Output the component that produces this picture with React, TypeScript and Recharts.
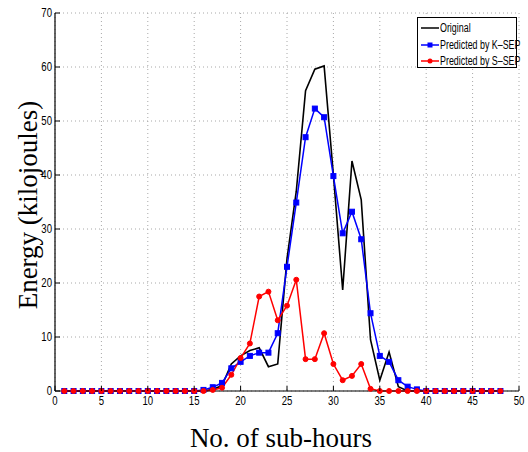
import { LineChart, Line, XAxis, YAxis, CartesianGrid } from 'recharts';

const subHours = [
  1, 2, 3, 4, 5, 6, 7, 8, 9, 10, 11, 12, 13, 14, 15, 16, 17, 18, 19, 20, 21, 22, 23, 24,
  25, 26, 27, 28, 29, 30, 31, 32, 33, 34, 35, 36, 37, 38, 39, 40, 41, 42, 43, 44, 45, 46, 47, 48,
];

const original = [
  0, 0, 0, 0, 0, 0, 0, 0, 0, 0, 0, 0, 0, 0, 0, 0, 0.3, 1, 5, 6.5, 7.5, 8, 4.5, 5,
  24.5, 37, 55.6, 59.6, 60.2, 40, 18.7, 42.6, 35.4, 9.5, 2, 7.2, 0.8, 0, 0, 0, 0, 0, 0, 0, 0, 0, 0, 0,
];

const kSep = [
  0, 0, 0, 0, 0, 0, 0, 0, 0, 0, 0, 0, 0, 0, 0, 0.2, 0.7, 1.5, 4.2, 5.4, 6.5, 7.1, 7.1, 10.7,
  23, 34.9, 47, 52.3, 50.7, 39.8, 29.2, 33.2, 28.1, 14.4, 6.5, 5.4, 2, 0.8, 0.3, 0, 0, 0, 0, 0, 0, 0, 0, 0,
];

const sSep = [
  0, 0, 0, 0, 0, 0, 0, 0, 0, 0, 0, 0, 0, 0, 0, 0, 0.2, 0.6, 3, 6.1, 8.8, 17.5, 18.4, 13.1,
  15.8, 20.6, 5.9, 5.9, 10.7, 5, 2, 2.8, 5, 0.4, 0, 0, 0, 0, 0, 0, 0, 0, 0, 0, 0, 0, 0, 0,
];

const xTicks = [0, 5, 10, 15, 20, 25, 30, 35, 40, 45, 50];
const yTicks = [0, 10, 20, 30, 40, 50, 60, 70];

const data = subHours.map((h, i) => ({
  h,
  original: original[i],
  kSep: kSep[i],
  sSep: sSep[i],
}));

const tickFont = '"Liberation Sans", Arial, sans-serif';
const labelFont = '"Liberation Serif", "DejaVu Serif", serif';

// MATLAB-ish narrow labels: squeeze the regular sans horizontally
const BottomTick = ({ x, y, payload }: any) => (
  <g>
    <line x1={x} x2={x} y1={y} y2={y - 5} stroke="#000" />
    <g transform={`translate(${x},${y + 14}) scale(0.8,1)`}>
      <text x={0} y={0} textAnchor="middle" fontSize={12} fontFamily={tickFont} fill="#000">
        {payload.value}
      </text>
    </g>
  </g>
);

const LeftTick = ({ x, y, payload }: any) => (
  <g>
    <line x1={x} x2={x + 5} y1={y} y2={y} stroke="#000" />
    <g transform={`translate(${x - 3},${y + 4}) scale(0.8,1)`}>
      <text x={0} y={0} textAnchor="end" fontSize={12} fontFamily={tickFont} fill="#000">
        {payload.value}
      </text>
    </g>
  </g>
);

const TopTick = ({ x, y }: any) => <line x1={x} x2={x} y1={y} y2={y + 5} stroke="#000" />;
const RightTick = ({ x, y }: any) => <line x1={x - 5} x2={x} y1={y} y2={y} stroke="#000" />;

const SquareDot = ({ cx, cy }: any) => (
  <rect x={cx - 2.5} y={cy - 2.5} width={5} height={5} fill="#0000ff" stroke="#0000ff" />
);

const legendItems = [
  { name: 'Original', color: '#000000', marker: 'none' },
  { name: 'Predicted by K\u2013SEP', color: '#0000ff', marker: 'square' },
  { name: 'Predicted by S\u2013SEP', color: '#ff0000', marker: 'circle' },
];

const LegendBox = () => (
  <div
    style={{
      position: 'absolute',
      left: 417,
      top: 17,
      width: 98,
      height: 49,
      border: '1px solid #000',
      background: '#fff',
      fontFamily: tickFont,
      fontSize: 12,
      color: '#000',
      boxSizing: 'content-box',
    }}
  >
    {legendItems.map((it, i) => (
      <div
        key={it.name}
        style={{
          position: 'absolute',
          left: 3,
          top: 2 + i * 16.5,
          height: 16,
          display: 'flex',
          alignItems: 'center',
          whiteSpace: 'nowrap',
        }}
      >
        <svg width={18} height={8} style={{ marginRight: 1, flex: 'none' }}>
          <line x1={0} x2={18} y1={4} y2={4} stroke={it.color} strokeWidth={1.5} />
          {it.marker === 'square' && <rect x={6.5} y={1.5} width={5} height={5} fill={it.color} />}
          {it.marker === 'circle' && <circle cx={9} cy={4} r={2.5} fill={it.color} />}
        </svg>
        <span style={{ display: 'inline-block', transform: 'scaleX(0.74)', transformOrigin: 'left center' }}>
          {it.name}
        </span>
      </div>
    ))}
  </div>
);

export default function App() {
  return (
    <div style={{ position: 'absolute', left: 0, top: 0, width: 528, height: 452, background: '#fff' }}>
      <LineChart width={528} height={452} data={data} margin={{ top: 13, right: 9, bottom: 0, left: 0 }}>
        <CartesianGrid stroke="#a8a8a8" strokeDasharray="1 3" vertical horizontal />
        <XAxis
          dataKey="h"
          type="number"
          domain={[0, 50]}
          ticks={xTicks}
          height={61}
          tickSize={0}
          tickMargin={0}
          tick={<BottomTick />}
          axisLine={{ stroke: '#000', strokeWidth: 1.2 }}
          interval={0}
        />
        <XAxis
          xAxisId="top"
          orientation="top"
          dataKey="h"
          type="number"
          domain={[0, 50]}
          ticks={xTicks}
          height={0}
          tickSize={0}
          tickMargin={0}
          tick={<TopTick />}
          axisLine={{ stroke: '#000', strokeWidth: 1.2 }}
          interval={0}
        />
        <YAxis
          type="number"
          domain={[0, 70]}
          ticks={yTicks}
          width={55}
          tickSize={0}
          tickMargin={0}
          tick={<LeftTick />}
          axisLine={{ stroke: '#000', strokeWidth: 1.2 }}
          interval={0}
        />
        <YAxis
          yAxisId="right"
          orientation="right"
          type="number"
          domain={[0, 70]}
          ticks={yTicks}
          width={0}
          tickSize={0}
          tickMargin={0}
          tick={<RightTick />}
          axisLine={{ stroke: '#000', strokeWidth: 1.2 }}
          interval={0}
        />
        <Line
          dataKey="original"
          name="Original"
          stroke="#000000"
          strokeWidth={1.6}
          dot={false}
          activeDot={false}
          isAnimationActive={false}
        />
        <Line
          dataKey="kSep"
          name="Predicted by K-SEP"
          stroke="#0000ff"
          strokeWidth={1.5}
          dot={<SquareDot />}
          activeDot={false}
          isAnimationActive={false}
        />
        <Line
          dataKey="sSep"
          name="Predicted by S-SEP"
          stroke="#ff0000"
          strokeWidth={1.5}
          dot={{ r: 2.5, fill: '#ff0000', stroke: '#ff0000', strokeWidth: 1 }}
          activeDot={false}
          isAnimationActive={false}
        />
        <text x={281} y={447} textAnchor="middle" fontSize={27} fontFamily={labelFont} fill="#000">
          No. of sub-hours
        </text>
        <text
          x={0}
          y={0}
          transform="translate(37,205) rotate(-90)"
          textAnchor="middle"
          fontSize={27}
          fontFamily={labelFont}
          fill="#000"
        >
          Energy (kilojoules)
        </text>
      </LineChart>
      <LegendBox />
    </div>
  );
}
